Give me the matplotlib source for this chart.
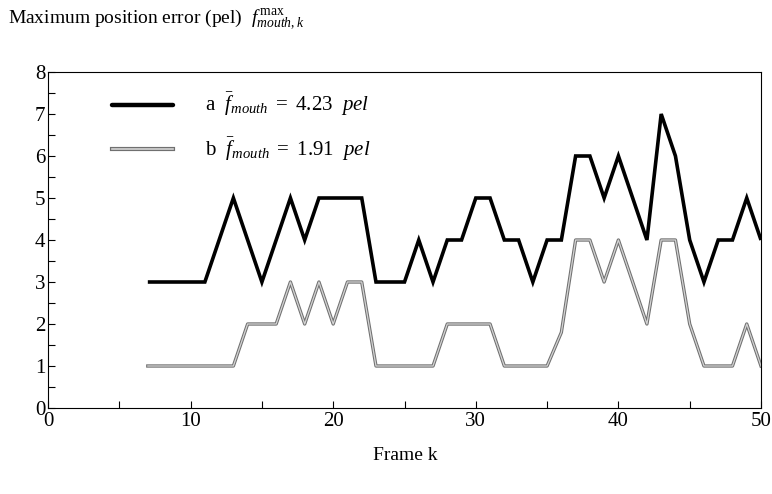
import matplotlib
matplotlib.use("Agg")
import matplotlib.pyplot as plt
import matplotlib.patheffects as pe
from matplotlib.ticker import MultipleLocator

frames = list(range(7, 51))
series_a = [3, 3, 3, 3, 3, 4, 5, 4, 3, 4, 5, 4, 5, 5, 5, 5, 3, 3, 3, 4, 3, 4, 4, 5, 5,
            4, 4, 3, 4, 4, 6, 6, 5, 6, 5, 4, 7, 6, 4, 3, 4, 4, 5, 4]
series_b = [1, 1, 1, 1, 1, 1, 1, 2, 2, 2, 3, 2, 3, 2, 3, 3, 1, 1, 1, 1, 1, 2, 2, 2, 2,
            1, 1, 1, 1, 1.8, 4, 4, 3, 4, 3, 2, 4, 4, 2, 1, 1, 1, 2, 1]
label_a = r"a  $\bar{f}_{mouth}\ =\ 4.23\ \ pel$"
label_b = r"b  $\bar{f}_{mouth}\ =\ 1.91\ \ pel$"
title = r"Maximum position error (pel)  $f_{mouth,k}^{\,\max}$"
xlabel = "Frame k"

plt.rcParams['font.family'] = ['Liberation Serif', 'DejaVu Serif']
plt.rcParams['mathtext.fontset'] = 'custom'
plt.rcParams['mathtext.rm'] = 'Liberation Serif'
plt.rcParams['mathtext.it'] = 'Liberation Serif:italic'
plt.rcParams['mathtext.bf'] = 'Liberation Serif:bold'

fig = plt.figure(figsize=(7.72, 4.94), dpi=100)
ax = fig.add_axes([48/772, 1-408/494, (761-48)/772, (408-72)/494])

ax.plot(frames, series_a, color='black', lw=2.6, solid_joinstyle='miter', solid_capstyle='butt')
gray_fx = [pe.Stroke(linewidth=2.4, foreground='#707070'), pe.Normal()]
ax.plot(frames, series_b, color='#d4d4d4', lw=0.9, path_effects=gray_fx)

# legend-like samples
ax.plot([4.5, 8.8], [7.22, 7.22], color='black', lw=3.2, solid_capstyle='round')
ax.plot([4.5, 8.8], [6.17, 6.17], color='#d4d4d4', lw=1.2,
        path_effects=[pe.Stroke(linewidth=3.0, foreground='#707070'), pe.Normal()])
ax.text(11.0, 7.22, label_a, fontsize=15, va='center', ha='left')
ax.text(11.0, 6.17, label_b, fontsize=15, va='center', ha='left')

ax.set_xlim(0, 50)
ax.set_ylim(0, 8)
ax.xaxis.set_major_locator(MultipleLocator(10))
ax.xaxis.set_minor_locator(MultipleLocator(5))
ax.yaxis.set_major_locator(MultipleLocator(1))
ax.yaxis.set_minor_locator(MultipleLocator(0.5))
ax.tick_params(which='both', direction='in', length=5, width=0.8, labelsize=15,
               top=False, right=False, pad=3)
ax.tick_params(axis='y', pad=2)
for s in ax.spines.values():
    s.set_linewidth(0.8)

fig.text(8/772, 1-20/494, title, fontsize=14, ha='left', va='center')
fig.text(405/772, 1-455/494, xlabel, fontsize=14, ha='center', va='center')

fig.savefig('out.png', dpi=100)
